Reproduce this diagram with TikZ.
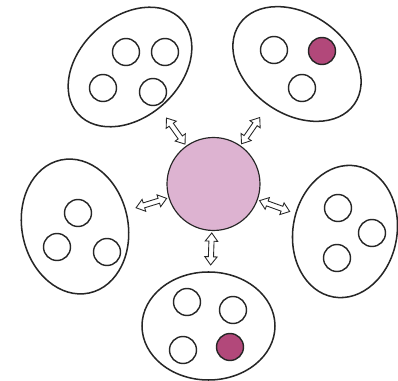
\documentclass[tikz,border=0pt]{standalone}
\usepackage{tikz}
\usetikzlibrary{positioning}
\usetikzlibrary{calc}
\usetikzlibrary{shapes.geometric}

\definecolor{hubpink}{RGB}{221,179,209}
\definecolor{seedpink}{RGB}{178,72,122}

\begin{document}
\begin{tikzpicture}[
    cell/.style={ellipse, draw=black!85, line width=1.3pt, inner sep=0pt},
    seed/.style={circle, draw=black!85, line width=1.2pt, minimum size=0.81cm, inner sep=0pt},
    marked/.style={seed, fill=seedpink},
    af/.style={shift={(\tikztostart)}, rotate=\n1},
    swaparrow/.style={draw=black!85, fill=white, line width=0.75pt, line join=miter,
      to path={let \p1=($(\tikztotarget)-(\tikztostart)$), \n1={atan2(\y1,\x1)}, \n2={veclen(\x1,\y1)} in
        ([af]0,0) -- ([af]7pt,5.3pt) -- ([af]7pt,2.2pt)
        -- ([af]{\n2*1pt-7pt},2.2pt) -- ([af]{\n2*1pt-7pt},5.3pt)
        -- ([af]{\n2*1pt},0) -- ([af]{\n2*1pt-7pt},-5.3pt)
        -- ([af]{\n2*1pt-7pt},-2.2pt) -- ([af]7pt,-2.2pt)
        -- ([af]7pt,-5.3pt) -- cycle}}
  ]
    \useasboundingbox (-6.405,-5.91) rectangle (5.535,5.52);

    \node [circle, draw=black!85, line width=1pt, fill=hubpink, minimum size=2.79cm] (hub) at (0,0) {};

    % the five groups
    \node [cell, minimum width=4.2cm, minimum height=3.0cm, rotate=42] (cellTL) at (-2.505,3.51) {};
    \node [cell, minimum width=4.2cm, minimum height=3.0cm, rotate=-35] (cellTR) at (2.505,3.6) {};
    \node [cell, minimum width=3.18cm, minimum height=4.08cm, rotate=12] (cellL) at (-4.155,-1.275) {};
    \node [cell, minimum width=3.12cm, minimum height=3.99cm, rotate=-10] (cellR) at (3.945,-1.425) {};
    \node [cell, minimum width=3.99cm, minimum height=3.24cm] (cellB) at (-0.15,-4.26) {};

    \node [seed] (tl1) at (-2.625,3.96) {};
    \node [seed] (tl2) at (-1.455,3.96) {};
    \node [seed] (tl3) at (-3.315,2.88) {};
    \node [seed] (tl4) at (-1.815,2.76) {};

    \node [seed] (tr1) at (1.815,4.02) {};
    \node [marked] (tr2) at (3.255,3.99) {};
    \node [seed] (tr3) at (2.655,2.88) {};

    \node [seed] (l1) at (-4.065,-0.87) {};
    \node [seed] (l2) at (-4.695,-1.89) {};
    \node [seed] (l3) at (-3.195,-2.04) {};

    \node [seed] (r1) at (3.735,-0.72) {};
    \node [seed] (r2) at (4.755,-1.47) {};
    \node [seed] (r3) at (3.705,-2.22) {};

    \node [seed] (b1) at (-0.795,-3.54) {};
    \node [seed] (b2) at (0.585,-3.78) {};
    \node [seed] (b3) at (-0.915,-4.98) {};
    \node [marked] (b4) at (0.495,-4.89) {};

    % exchange arrows
    \draw [swaparrow] ($(hub.center)!1.47cm!(cellTL)$) to ($(hub.center)!2.43cm!(cellTL)$);
    \draw [swaparrow] ($(hub.center)!1.47cm!(cellTR)$) to ($(hub.center)!2.43cm!(cellTR)$);
    \draw [swaparrow] ($(hub.center)!1.47cm!(cellL)$) to ($(hub.center)!2.43cm!(cellL)$);
    \draw [swaparrow] ($(hub.center)!1.47cm!(cellR)$) to ($(hub.center)!2.43cm!(cellR)$);
    \draw [swaparrow] ($(hub.center)!1.47cm!(cellB)$) to ($(hub.center)!2.43cm!(cellB)$);
\end{tikzpicture}
\end{document}
